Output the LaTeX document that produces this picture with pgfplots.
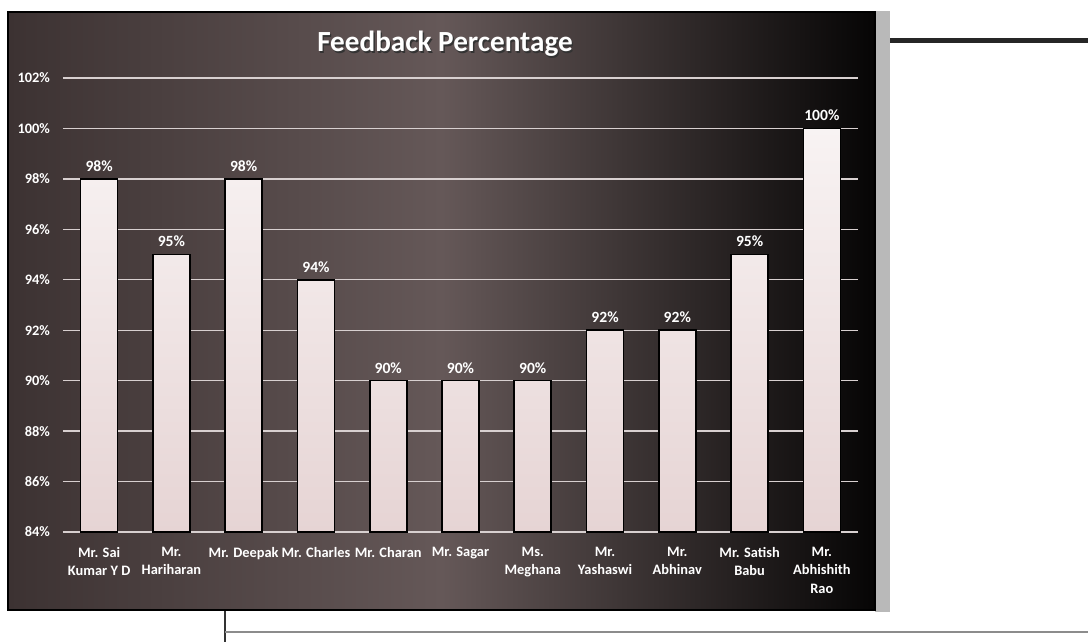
\documentclass[border=0pt]{standalone}
\usepackage{pgfplots}
\pgfplotsset{compat=1.18}
\usepackage{fontspec}
\setmainfont{Carlito}
\definecolor{bgL}{HTML}{3C3232}
\definecolor{bgM}{HTML}{655858}
\definecolor{bgR}{HTML}{060505}
\definecolor{barTop}{HTML}{F8F3F3}
\definecolor{barBot}{HTML}{E6D4D4}
\definecolor{gridc}{HTML}{D8D0D0}
\begin{document}
\begin{tikzpicture}[x=1pt,y=1pt]
\useasboundingbox (0,0) rectangle (544,321);
\fill[white] (0,0) rectangle (544,321);
% page decorations
\fill[black!85] (435,299.5) rectangle (544,302);
\fill[black!80] (111.8,0) rectangle (113.2,16);
\draw[black!45, line width=0.8pt] (112.5,5) -- (544,5);
\fill[gray!55] (437.5,15) rectangle (445,315.5);
% chart panel
\shade[left color=bgL, right color=bgR, middle color=bgM] (4,16) rectangle (437.5,315);
\draw[black, line width=1pt] (4,16) rectangle (437.5,315);
\node[text=black!80, font=\bfseries\fontsize{14.6}{17}\selectfont] at (223.2,298.3) {Feedback Percentage};
\node[text=white, font=\bfseries\fontsize{14.6}{17}\selectfont] at (222.5,299) {Feedback Percentage};
\begin{axis}[
  at={(31.5pt,55pt)}, anchor=south west,
  width=397.5pt, height=227pt, scale only axis,
  xmin=-0.5, xmax=10.5, ymin=84, ymax=102,
  axis x line*=bottom, axis y line*=left,
  x axis line style={draw=gridc, line width=1.2pt, -},
  y axis line style={draw=none},
  major tick length=0pt,
  ytick={84,86,...,102},
  yticklabels={84\%,86\%,88\%,90\%,92\%,94\%,96\%,98\%,100\%,102\%},
  yticklabel style={text=white, font=\bfseries\fontsize{7.2}{8}\selectfont, xshift=-3pt},
  xtick={0,...,10},
  xticklabels={Mr. Sai\\Kumar Y D, Mr.\\Hariharan, Mr. Deepak, Mr. Charles, Mr. Charan, Mr. Sagar, Ms.\\Meghana, Mr.\\Yashaswi, Mr.\\Abhinav, Mr. Satish\\Babu, Mr.\\Abhishith\\Rao},
  xticklabel style={text=white, align=center, font=\bfseries\fontsize{7.2}{9.2}\selectfont, anchor=north, yshift=-4pt},
  ymajorgrids, grid style={gridc, line width=0.7pt},
  /pgf/number format/assume math mode=true,
  nodes near coords={\pgfmathprintnumber{\pgfplotspointmeta}\%},
  nodes near coords style={text=white, font=\bfseries\fontsize{7.8}{8}\selectfont, yshift=0pt},
  clip=false,
]
\addplot[ybar, bar width=18.5pt, draw=black, line width=0.8pt, top color=barTop, bottom color=barBot]
 coordinates {(0,98) (1,95) (2,98) (3,94) (4,90) (5,90) (6,90) (7,92) (8,92) (9,95) (10,100)};
\end{axis}
\end{tikzpicture}
\end{document}
